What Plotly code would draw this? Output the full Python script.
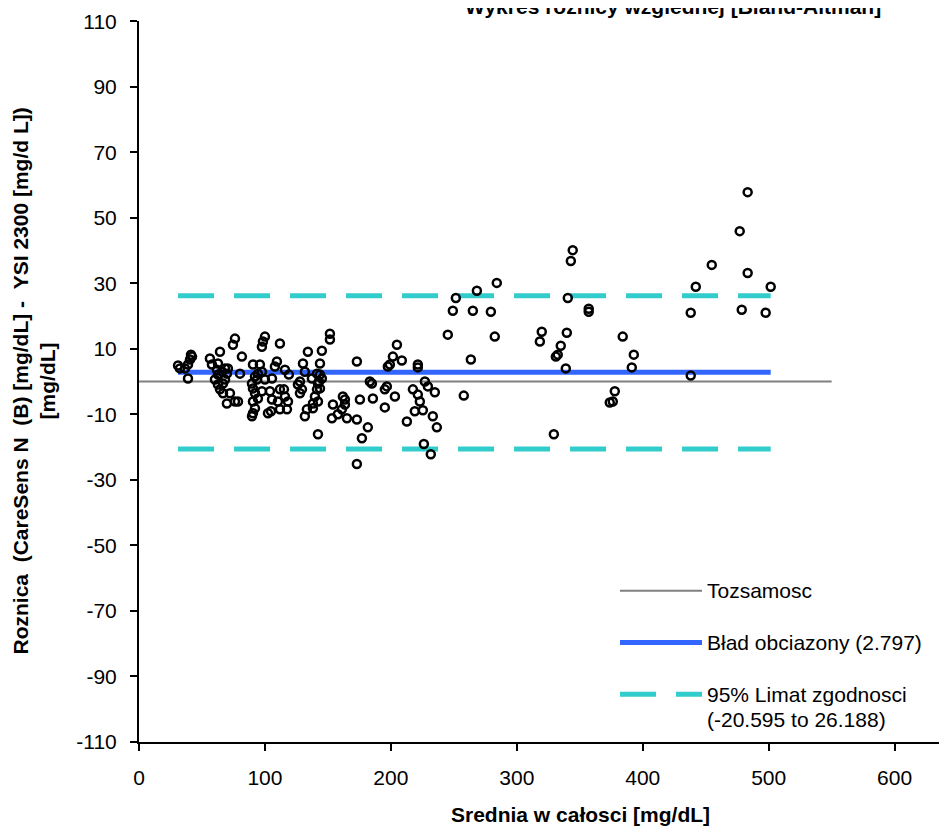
import plotly.graph_objects as go

# ---- data ----
mean_vals = [
    31.0, 32.5, 38.9, 40.5, 42.1, 41.3, 38.9, 36.5,
    56.3, 57.9, 62.7, 64.3, 61.9, 62.7, 65.9, 68.3, 69.8, 70.6, 62.7, 64.3,
    66.7, 69.8, 72.2, 76.2, 78.6, 60.3, 66.7, 68.3, 74.6, 76.2, 81.7, 80.2,
    90.5, 96.0, 89.7, 92.1, 93.7, 94.4, 97.6, 90.5, 92.1, 94.4, 90.5, 92.1,
    90.5, 89.7, 97.6, 100.0, 100.0, 98.4, 97.6, 104.0, 105.6, 105.6, 104.8,
    109.5, 107.9, 111.9, 110.3, 111.9, 102.4, 115.9, 119.0, 111.9, 115.1,
    115.9, 118.3, 117.5,
    130.2, 134.1, 145.2, 151.6, 151.6, 143.7, 131.7, 127.8, 126.2, 129.4,
    127.8, 137.3, 141.3, 143.7, 142.1, 141.3, 139.7, 138.1, 138.1, 133.3,
    131.7, 142.1, 143.7, 142.9, 142.1, 145.2,
    154.0, 153.2, 157.9, 161.1, 163.5, 161.9, 163.5, 165.1, 173.0, 173.0,
    175.4, 181.7, 177.0, 173.0, 183.3, 184.9, 185.7, 195.2, 196.8, 195.2,
    197.6, 199.2, 203.2, 201.6, 204.8, 208.7, 217.5, 221.4, 221.4, 227.0,
    229.4, 221.4, 234.9, 223.0, 225.4, 219.0, 212.7, 233.3, 236.5, 226.2,
    231.7, 245.2, 263.5, 257.9, 282.5,
    249.2, 251.6, 265.1, 268.3, 279.4, 284.1, 318.3, 319.8, 329.4, 331.0,
    332.5, 334.9, 338.9, 339.7, 340.5, 342.9, 344.4, 357.1, 357.1, 373.8,
    376.2, 377.8, 384.1, 391.3, 392.9, 438.1, 438.1, 442.1, 454.8, 477.0,
    483.3, 483.3, 478.6, 497.6, 501.6,
]
diff_vals = [
    4.9, 4.0, 5.2, 6.7, 7.6, 8.2, 0.9, 4.0,
    7.0, 5.2, 5.5, 9.1, 3.6, 2.1, 3.0, 4.0, 2.4, 4.0, -0.9, -2.4,
    -3.6, -6.7, -3.6, -6.1, -6.1, 0.6, -0.6, 0.6, 11.2, 13.1, 7.6, 2.4,
    5.2, 5.2, -0.6, 1.5, 0.6, 2.4, 3.0, -2.1, -3.6, -5.2, -6.1, -8.2,
    -9.7, -10.6, -3.0, 0.6, 13.7, 12.2, 10.6, -3.0, 0.9, -5.5, -9.1,
    6.1, 4.6, 11.6, -6.1, -8.5, -9.7, 3.6, 2.1, -2.4, -2.4,
    -4.6, -6.1, -8.5,
    5.5, 9.1, 9.4, 14.6, 12.8, 5.5, 3.0, 0.0, -0.9, -2.4,
    -3.6, 0.9, 2.4, 2.1, -0.6, -2.4, -4.6, -6.7, -8.2, -8.5,
    -10.6, -16.1, -2.1, 0.0, -6.1, 0.9,
    -7.0, -11.2, -10.0, -8.5, -5.5, -4.6, -7.0, -11.2, -11.6, 6.1,
    -5.5, -14.0, -17.3, -25.2, 0.0, -0.6, -5.2, -2.4, -1.5, -7.9,
    4.6, 5.2, -4.6, 7.6, 11.2, 6.4, -2.4, 5.2, 4.3, 0.0,
    -1.5, -4.0, -3.3, -6.1, -8.8, -9.1, -12.2, -10.6, -14.0, -19.1,
    -22.2, 14.3, 6.7, -4.3, 13.7,
    21.6, 25.5, 21.6, 27.7, 21.3, 30.1, 12.2, 15.2, -16.1, 7.6,
    8.2, 10.9, 4.0, 14.9, 25.5, 36.8, 40.1, 22.2, 21.3, -6.4,
    -6.1, -3.0, 13.7, 4.3, 8.2, 21.0, 1.8, 28.9, 35.6, 45.9,
    57.8, 33.1, 21.9, 21.0, 28.9,
]

bias = 2.797
loa_low = -20.595
loa_high = 26.188
identity_x = [0, 550]

x_ticks = [0, 100, 200, 300, 400, 500, 600]
y_ticks = [-110, -90, -70, -50, -30, -10, 10, 30, 50, 70, 90, 110]

legend_labels = [
    "Tozsamosc",
    "Bład obciazony (2.797)",
    "95% Limat zgodnosci",
    "(-20.595 to 26.188)",
]

FONT = "Arial, Liberation Sans, sans-serif"
GRAY = "#808080"
BLUE = "#3366FF"
CYAN = "#33CCCC"
DASH = "36px,20px"

x_span = [min(mean_vals), max(mean_vals)]

fig = go.Figure()

fig.add_trace(go.Scatter(x=identity_x, y=[0, 0], mode="lines",
                         line=dict(color=GRAY, width=2), hoverinfo="skip"))
fig.add_trace(go.Scatter(x=x_span, y=[bias, bias], mode="lines",
                         line=dict(color=BLUE, width=5), hoverinfo="skip"))
for lim in (loa_low, loa_high):
    fig.add_trace(go.Scatter(x=x_span, y=[lim, lim], mode="lines",
                             line=dict(color=CYAN, width=5, dash=DASH),
                             hoverinfo="skip"))
fig.add_trace(go.Scatter(x=mean_vals, y=diff_vals, mode="markers",
                         marker=dict(symbol="circle-open", size=8,
                                     color="black", line=dict(width=2.5))))

# ---- hand-made legend (long line samples like the original) ----
# plot area sits at 139..945 x 18..742 in the browser window
def px_x(p):
    return (p - 139) / 806.0

def px_y(p):
    return (742 - p) / 724.0

legend_rows = [(590, GRAY, 2, None), (642, BLUE, 5, None), (694, CYAN, 5, DASH)]
shapes = []
for ypos, col, w, dash in legend_rows:
    ln = dict(color=col, width=w)
    if dash:
        ln["dash"] = dash
    shapes.append(dict(type="line", xref="paper", yref="paper",
                       x0=px_x(620), x1=px_x(702), y0=px_y(ypos), y1=px_y(ypos),
                       line=ln))

annotations = []
for txt, ypos in zip(legend_labels, [590, 642, 694, 719]):
    annotations.append(dict(text=txt, xref="paper", yref="paper",
                            x=px_x(705), y=px_y(ypos), xanchor="left",
                            yanchor="middle", showarrow=False,
                            font=dict(size=21, color="black", family=FONT)))

# title (cut off by the top edge, as in the source image)
annotations.append(dict(text="<b>Wykres roznicy wzglednej [Bland-Altman]</b>",
                        xref="paper", yref="paper", x=px_x(673), y=px_y(17),
                        xanchor="center", yanchor="bottom", showarrow=False,
                        font=dict(size=21, color="black", family=FONT)))
# axis titles
annotations.append(dict(text="<b>Srednia w całosci [mg/dL]</b>",
                        xref="paper", yref="paper", x=px_x(580), y=px_y(815),
                        xanchor="center", yanchor="middle", showarrow=False,
                        font=dict(size=21, color="black", family=FONT)))
annotations.append(dict(
    text="<b>Roznica \u00a0(CareSens N \u00a0(B) [mg/dL] - \u00a0YSI 2300 [mg/d L])<br>[mg/dL]</b>",
    xref="paper", yref="paper", x=px_x(33), y=px_y(380),
    xanchor="center", yanchor="middle", textangle=-90, showarrow=False,
    font=dict(size=21, color="black", family=FONT)))

# the page body adds an 8px offset, so the figure is sized to fit inside it
fig.update_layout(
    width=939, height=824,
    margin=dict(l=131, r=2, t=10, b=90),
    paper_bgcolor="white", plot_bgcolor="white",
    showlegend=False,
    font=dict(family=FONT, color="black"),
    shapes=shapes, annotations=annotations,
)
fig.update_xaxes(range=[0, 640], tickvals=x_ticks,
                 ticktext=[str(v) for v in x_ticks], showgrid=False,
                 zeroline=False, showline=True, linecolor="black", linewidth=2,
                 ticks="outside", ticklen=7, tickwidth=2, tickcolor="black",
                 ticklabelstandoff=9, ticklabeloverflow="allow",
                 tickfont=dict(size=21, family=FONT, color="black"))
fig.update_yaxes(range=[-110.05, 110.05], tickvals=y_ticks,
                 ticktext=[str(v) for v in y_ticks], showgrid=False,
                 zeroline=False, showline=True, linecolor="black", linewidth=2,
                 ticks="outside", ticklen=7, tickwidth=2, tickcolor="black",
                 ticklabelstandoff=9, ticklabeloverflow="allow",
                 tickfont=dict(size=21, family=FONT, color="black"))

fig.write_html("out.html")
